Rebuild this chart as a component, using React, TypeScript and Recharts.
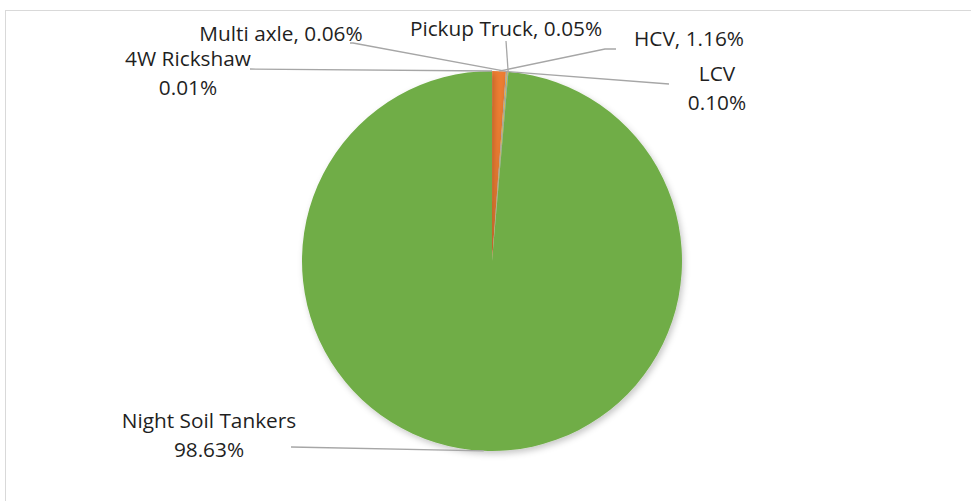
import { PieChart, Pie, Cell } from 'recharts';

const categories = ['4W Rickshaw', 'HCV', 'LCV', 'Multi axle', 'Pickup Truck', 'Night Soil Tankers'];
const shares = [0.01, 1.16, 0.1, 0.06, 0.05, 98.63];
const percentLabels = ['0.01%', '1.16%', '0.10%', '0.06%', '0.05%', '98.63%'];
const sliceColors = ['#4472C4', '#ED7D31', '#A5A5A5', '#FFC000', '#5B9BD5', '#70AD47'];

const data = categories.map((name, i) => ({ name, value: shares[i], pct: percentLabels[i] }));

// label placement, offsets from the pie centre (text lines + leader path start)
const labelLayout: Record<string, { x: number; y: number; lines: 'one' | 'two'; path: [number, number][] }> = {
  '4W Rickshaw': { x: -304, y: -203, lines: 'two', path: [[-242, -192]] },
  HCV: { x: 197, y: -223, lines: 'one', path: [[124, -212], [113, -212]] },
  LCV: { x: 225, y: -188, lines: 'two', path: [[177, -177]] },
  'Multi axle': { x: -211, y: -228, lines: 'one', path: [[-142, -218], [-139, -218]] },
  'Pickup Truck': { x: 14, y: -233, lines: 'one', path: [[14, -220]] },
  'Night Soil Tankers': { x: -283, y: 159, lines: 'two', path: [[-201, 186]] },
};

const RAD = Math.PI / 180;
const FONT = '"Open Sans", Lato, sans-serif';
const FONT_SIZE = 20.8;

function renderLabel(props: any) {
  const { cx, cy, midAngle, outerRadius, index } = props;
  const entry = data[index];
  const lay = labelLayout[entry.name];
  if (!lay) return null;
  const ex = cx + outerRadius * Math.cos(-midAngle * RAD);
  const ey = cy + outerRadius * Math.sin(-midAngle * RAD);
  const pts = lay.path.map(([dx, dy]) => `${cx + dx},${cy + dy}`);
  pts.push(`${ex},${ey}`);
  return (
    <g key={`lbl-${index}`}>
      <polyline points={pts.join(' ')} fill="none" stroke="#A6A6A6" strokeWidth={1.3} />
      {lay.lines === 'one' ? (
        <text x={cx + lay.x} y={cy + lay.y} textAnchor="middle" dominantBaseline="central" fill="#1f1f1f" fontSize={FONT_SIZE} fontFamily={FONT}>
          {`${entry.name}, ${entry.pct}`}
        </text>
      ) : (
        <text textAnchor="middle" dominantBaseline="central" fill="#1f1f1f" fontSize={FONT_SIZE} fontFamily={FONT}>
          <tspan x={cx + lay.x} y={cy + lay.y}>{entry.name}</tspan>
          <tspan x={cx + lay.x} y={cy + lay.y + 29}>{entry.pct}</tspan>
        </text>
      )}
    </g>
  );
}

export default function App() {
  return (
    <div style={{ position: 'absolute', left: 0, top: 0, width: 971, height: 501, background: '#fff', overflow: 'hidden' }}>
      <svg width={0} height={0} style={{ position: 'absolute' }}>
        <defs>
          <filter id="pieShadow" x="-10%" y="-10%" width="130%" height="130%">
            <feDropShadow dx={2} dy={3} stdDeviation={3} floodColor="#000" floodOpacity={0.22} />
          </filter>
        </defs>
      </svg>
      <style>{`.recharts-pie-sector path { filter: url(#pieShadow); }`}</style>
      <div
        style={{
          position: 'absolute',
          left: 5,
          top: 10,
          width: 990,
          height: 520,
          border: '1px solid #D9D9D9',
        }}
      />
      <div style={{ position: 'absolute', left: 0, top: 0 }}>
        <PieChart width={971} height={501} margin={{ top: 0, right: 0, bottom: 0, left: 0 }}>
          <Pie
            data={data}
            dataKey="value"
            nameKey="name"
            cx={492}
            cy={261}
            outerRadius={190}
            startAngle={90}
            endAngle={-270}
            stroke="none"
            labelLine={false}
            label={renderLabel}
            isAnimationActive={false}
          >
            {data.map((entry, i) => (
              <Cell key={`cell-${i}`} fill={sliceColors[i]} />
            ))}
          </Pie>
        </PieChart>
      </div>
    </div>
  );
}
